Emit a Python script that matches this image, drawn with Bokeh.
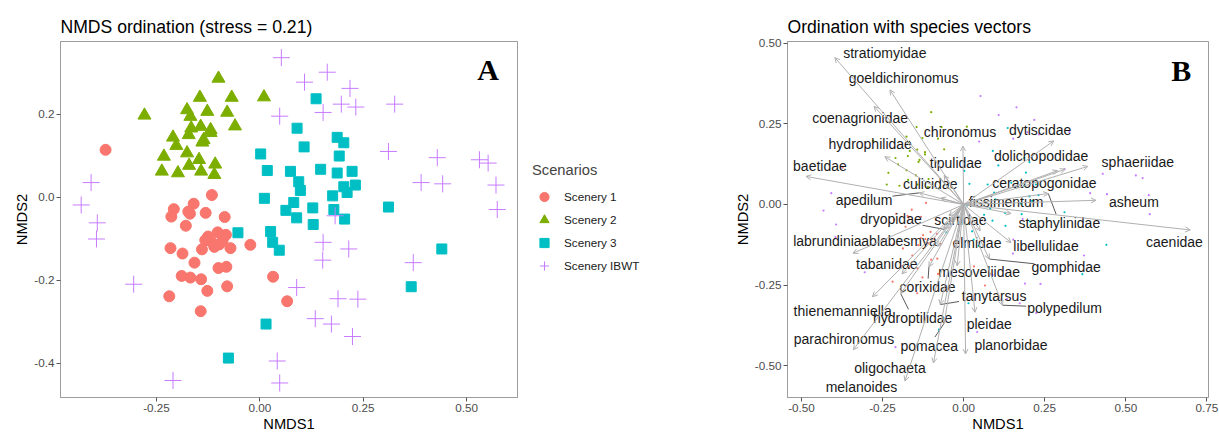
from bokeh.plotting import figure
from bokeh.layouts import row
from bokeh.models import (ColumnDataSource, Arrow, OpenHead, Legend, LegendItem,
                          Label, FixedTicker, Range1d, NumeralTickFormatter)
from bokeh.core.properties import value
from bokeh.embed import file_html
from bokeh.resources import INLINE

FONT = "Liberation Sans"

# ---------------- site scores (NMDS1, NMDS2) ----------------
s1_x = [-0.373, -0.116, -0.160, -0.208, -0.131, -0.085, -0.173, -0.214, -0.169, -0.179,
        -0.102, -0.082, -0.132, -0.118, -0.098, -0.140, -0.216, -0.187, -0.071, -0.023,
        -0.158, -0.100, -0.081, -0.189, -0.168, -0.142, -0.079, -0.127, 0.032, -0.219,
        0.066, -0.143, -0.125, -0.110, -0.090]
s1_y = [0.114, 0.005, -0.016, -0.029, -0.038, -0.048, -0.035, -0.047, -0.040, -0.069,
        -0.085, -0.091, -0.104, -0.107, -0.114, -0.126, -0.123, -0.136, -0.123, -0.115,
        -0.158, -0.171, -0.168, -0.190, -0.194, -0.198, -0.215, -0.226, -0.192, -0.239,
        -0.251, -0.275, -0.095, -0.120, -0.105]

s2_x = [-0.279, -0.100, -0.145, -0.068, 0.010, -0.176, -0.127, -0.079, -0.168, -0.060,
        -0.166, -0.143, -0.119, -0.172, -0.136, -0.119, -0.210, -0.202, -0.139, -0.176,
        -0.232, -0.147, -0.108, -0.171, -0.237, -0.198, -0.142, -0.110]
s2_y = [0.197, 0.286, 0.240, 0.240, 0.241, 0.210, 0.206, 0.204, 0.194, 0.171,
        0.166, 0.170, 0.162, 0.150, 0.138, 0.155, 0.144, 0.124, 0.132, 0.106,
        0.098, 0.090, 0.079, 0.076, 0.062, 0.058, 0.062, 0.054]

s3_x = [0.136, 0.090, 0.107, 0.187, 0.203, 0.002, 0.192, 0.018, 0.074, 0.147,
        0.187, 0.223, 0.094, 0.098, 0.203, 0.231, 0.211, 0.176, 0.011, 0.082,
        0.128, 0.179, 0.063, 0.311, 0.089, 0.129, 0.205, -0.053, 0.026, 0.031,
        0.047, 0.366, 0.015, -0.076, 0.440]
s3_y = [0.237, 0.166, 0.121, 0.144, 0.131, 0.104, 0.099, 0.064, 0.062, 0.067,
        0.058, 0.062, 0.037, 0.016, 0.025, 0.029, 0.011, 0.003, -0.003, -0.013,
        -0.026, -0.030, -0.032, -0.024, -0.050, -0.066, -0.053, -0.086, -0.083, -0.109,
        -0.128, -0.216, -0.306, -0.388, -0.125]

s4_x = [0.052, 0.108, 0.163, 0.218, 0.197, 0.232, 0.153, 0.048, 0.326, 0.311,
        -0.408, -0.432, 0.182, -0.393, -0.395, -0.305, 0.153, 0.215, 0.152, 0.371,
        0.089, 0.189, 0.237, 0.134, 0.173, 0.224, 0.042, 0.048, -0.210, 0.429,
        0.531, 0.552, 0.390, 0.442, 0.571, 0.574]
s4_y = [0.336, 0.277, 0.301, 0.262, 0.224, 0.217, 0.204, 0.195, 0.224, 0.110,
        0.035, -0.019, -0.045, -0.062, -0.101, -0.210, -0.109, -0.125, -0.152, -0.158,
        -0.218, -0.245, -0.246, -0.293, -0.306, -0.336, -0.395, -0.448, -0.442, 0.095,
        0.090, 0.082, 0.035, 0.032, 0.029, -0.030]

scenarios = ["Scenery 1", "Scenery 2", "Scenery 3", "Scenery IBWT"]
colors = ["#F8766D", "#7CAE00", "#00BFC4", "#C77CFF"]
markers = ["circle", "triangle", "square", "cross"]

# ---------------- species vectors ----------------
species = ["stratiomyidae", "goeldichironomus", "coenagrionidae", "chironomus", "hydrophilidae",
           "baetidae", "tipulidae", "culicidae", "apedilum", "dytiscidae",
           "dolichopodidae", "sphaeriidae", "ceratopogonidae", "fissimentum", "asheum",
           "staphylinidae", "caenidae", "scirtidae", "dryopidae", "labrundinia",
           "ablabesmya", "elmidae", "libellulidae", "tabanidae", "mesoveliidae",
           "gomphidae", "corixidae", "tanytarsus", "thienemanniella", "hydroptilidae",
           "polypedilum", "pleidae", "parachironomus", "pomacea", "planorbidae",
           "oligochaeta", "melanoides"]
vec_x = [-0.397, -0.227, -0.276, -0.002, -0.243,
         -0.486, -0.060, -0.070, -0.137, 0.278,
         0.313, 0.383, 0.290, 0.146, 0.408,
         0.261, 0.699, -0.045, -0.060, -0.341,
         -0.080, 0.051, 0.146, -0.190, -0.020,
         0.079, -0.107, -0.072, -0.281, -0.194,
         0.120, 0.035, -0.340, -0.060, 0.006,
         -0.093, -0.181]
vec_y = [0.455, 0.355, 0.304, 0.181, 0.148,
         0.087, 0.090, 0.020, 0.036, 0.197,
         0.109, 0.118, 0.105, -0.028, 0.013,
         0.034, -0.079, -0.035, -0.077, -0.151,
         -0.130, -0.082, -0.118, -0.215, -0.190,
         -0.169, -0.193, -0.310, -0.286, -0.276,
         -0.312, -0.334, -0.450, -0.368, -0.463,
         -0.491, -0.547]
lab_x = [-0.243, -0.185, -0.319, -0.011, -0.288,
         -0.443, -0.024, -0.103, -0.307, 0.236,
         0.239, 0.537, 0.249, 0.131, 0.525,
         0.295, 0.650, -0.010, -0.224, -0.420,
         -0.199, 0.041, 0.254, -0.237, 0.048,
         0.316, -0.111, 0.094, -0.373, -0.157,
         0.311, 0.079, -0.369, -0.106, 0.146,
         -0.227, -0.315]
lab_y = [0.470, 0.392, 0.268, 0.225, 0.187,
         0.120, 0.130, 0.064, 0.015, 0.230,
         0.150, 0.131, 0.067, 0.007, 0.007,
         -0.056, -0.117, -0.048, -0.046, -0.114,
         -0.113, -0.120, -0.130, -0.184, -0.210,
         -0.194, -0.256, -0.283, -0.330, -0.351,
         -0.320, -0.371, -0.416, -0.437, -0.435,
         -0.506, -0.567]
linked = ["apedilum", "dryopidae", "staphylinidae", "gomphidae", "polypedilum",
          "tanytarsus", "pomacea", "hydroptilidae", "corixidae"]

left_xticks = [-0.25, 0.0, 0.25, 0.5]
left_xlabels = ["-0.25", "0.00", "0.25", "0.50"]
left_yticks = [-0.4, -0.2, 0.0, 0.2]
left_ylabels = ["-0.4", "-0.2", "0.0", "0.2"]
right_xticks = [-0.5, -0.25, 0.0, 0.25, 0.5, 0.75]
right_xlabels = ["-0.50", "-0.25", "0.00", "0.25", "0.50", "0.75"]
right_yticks = [-0.5, -0.25, 0.0, 0.25, 0.5]
right_ylabels = ["-0.50", "-0.25", "0.00", "0.25", "0.50"]

FRAME = "#9C9C9C"


def style(p, xt, xl, yt, yl, fmt_x, fmt_y):
    p.xgrid.visible = False
    p.ygrid.visible = False
    p.outline_line_color = FRAME
    p.outline_line_width = 1
    p.xaxis.ticker = FixedTicker(ticks=xt)
    p.yaxis.ticker = FixedTicker(ticks=yt)
    p.xaxis.formatter = NumeralTickFormatter(format=fmt_x)
    p.yaxis.formatter = NumeralTickFormatter(format=fmt_y)
    p.xaxis.major_label_overrides = {t: l for t, l in zip(xt, xl)}
    p.yaxis.major_label_overrides = {t: l for t, l in zip(yt, yl)}
    for ax in (p.xaxis[0], p.yaxis[0]):
        ax.axis_line_color = FRAME
        ax.major_tick_line_color = "#555555"
        ax.major_tick_out = 4
        ax.major_tick_in = 0
        ax.minor_tick_line_color = None
        ax.major_label_text_font = FONT
        ax.major_label_text_font_size = "11.7px"
        ax.major_label_text_color = "#4D4D4D"
        ax.axis_label_text_font = FONT
        ax.axis_label_text_font_size = "14.7px"
        ax.axis_label_text_font_style = "normal"
        ax.axis_label_text_color = "black"
        ax.major_label_standoff = 2
        ax.axis_label_standoff = 1
    p.xaxis.axis_label = "NMDS1"
    p.yaxis.axis_label = "NMDS2"
    p.title.text_font = FONT
    p.title.text_font_size = "17.6px"
    p.title.text_font_style = "normal"
    p.title.text_color = "black"
    p.title.align = "left"


# ---------------- left panel ----------------
left = figure(width=520, height=434, output_backend="svg", toolbar_location=None,
              x_range=Range1d(-0.482, 0.623), y_range=Range1d(-0.483, 0.375),
              min_border_left=60, min_border_right=3, min_border_top=40,
              min_border_bottom=35, title="NMDS ordination (stress = 0.21)")
style(left, left_xticks, left_xlabels, left_yticks, left_ylabels, "0.00", "0.0")

r1 = left.scatter(s1_x, s1_y, marker="circle", size=11, fill_color=colors[0], line_color=colors[0])
r2 = left.scatter(s2_x, s2_y, marker="triangle", size=13, fill_color=colors[1], line_color=colors[1])
r3 = left.scatter(s3_x, s3_y, marker="square", size=10, fill_color=colors[2], line_color=colors[2])
r4 = left.scatter(s4_x, s4_y, marker="cross", size=17, line_color=colors[3], line_width=1)

left.add_layout(Label(x=0.552, y=0.307, text="A", text_font="Liberation Serif",
                      text_font_style="bold", text_font_size="30px",
                      text_align="center", text_baseline="middle", text_color="black"))

# ---------------- legend panel (separate strip between the two plots) ----------------
leg = figure(width=206, height=434, output_backend="svg", toolbar_location=None,
             x_range=Range1d(0, 1), y_range=Range1d(0, 1),
             min_border_left=0, min_border_right=0, min_border_top=0, min_border_bottom=0)
leg.axis.visible = False
leg.xgrid.visible = False
leg.ygrid.visible = False
leg.outline_line_color = None
leg_renderers = []
for m, c in zip(markers, colors):
    # key glyph renderers: one off-range point each, shown only in the legend
    if m == "cross":
        leg_renderers.append(leg.scatter([-5], [-5], marker=m, size=17, line_color=c, line_width=1))
    else:
        leg_renderers.append(leg.scatter([-5], [-5], marker=m, size=11, fill_color=c, line_color=c))

legend = Legend(items=[LegendItem(label=n, renderers=[r]) for n, r in zip(scenarios, leg_renderers)],
                title="Scenarios", location=(12, 120), margin=0, padding=6,
                glyph_width=24, glyph_height=23, label_height=23, spacing=0,
                label_standoff=8, title_standoff=7,
                border_line_color=None, background_fill_alpha=0)
legend.label_text_font = FONT
legend.label_text_font_size = "11.7px"
legend.label_text_color = "#1A1A1A"
legend.title_text_font = FONT
legend.title_text_font_size = "14.7px"
legend.title_text_font_style = "normal"
leg.add_layout(legend, "center")

# ---------------- right panel ----------------
right = figure(width=493, height=434, output_backend="svg", toolbar_location=None,
               x_range=Range1d(-0.543, 0.755), y_range=Range1d(-0.598, 0.505),
               min_border_left=61, min_border_right=11, min_border_top=41,
               min_border_bottom=35, title="Ordination with species vectors")
style(right, right_xticks, right_xlabels, right_yticks, right_ylabels, "0.00", "0.00")

for xs, ys, c in zip([s1_x, s2_x, s3_x, s4_x], [s1_y, s2_y, s3_y, s4_y], colors):
    right.scatter(xs, ys, marker="circle", size=2.2, fill_color=c, line_color=None)

vsrc = ColumnDataSource(dict(x0=[0.0] * len(species), y0=[0.0] * len(species), x1=vec_x, y1=vec_y))
right.add_layout(Arrow(source=vsrc, x_start="x0", y_start="y0", x_end="x1", y_end="y1",
                       line_color="#B0B0B0", line_width=1,
                       end=OpenHead(size=5, line_color="#B0B0B0", line_width=1)))

# repel-style connectors from label box edge to arrow tip
PXX, PXY = 324.0, 326.0
sx0, sy0, sx1, sy1 = [], [], [], []
for name, tx, ty, lx, ly in zip(species, vec_x, vec_y, lab_x, lab_y):
    if name not in linked:
        continue
    hw = (len(name) * 6.6 / 2 + 2) / PXX
    hh = 8.5 / PXY
    dx, dy = tx - lx, ty - ly
    t = min(hw / abs(dx) if dx else 9e9, hh / abs(dy) if dy else 9e9)
    if t >= 1:
        continue
    sx0.append(lx + t * dx); sy0.append(ly + t * dy); sx1.append(tx); sy1.append(ty)
right.segment(sx0, sy0, sx1, sy1, line_color="#5A5A5A", line_width=1)

tsrc = ColumnDataSource(dict(x=lab_x, y=lab_y, name=species))
right.text(x="x", y="y", text="name", source=tsrc, text_font=value(FONT),
           text_font_size=value("14px"), text_align="center", text_baseline="middle",
           text_color="#1A1A1A")

right.add_layout(Label(x=0.671, y=0.414, text="B", text_font="Liberation Serif",
                       text_font_style="bold", text_font_size="30px",
                       text_align="center", text_baseline="middle", text_color="black"))

layout = row(left, leg, right)
open("out.html", "w").write(file_html(layout, INLINE))
